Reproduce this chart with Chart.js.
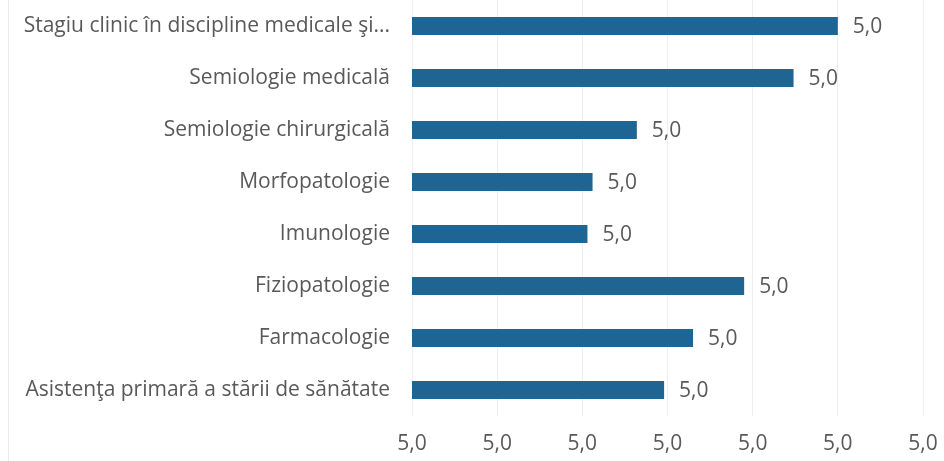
<!DOCTYPE html>
<html>
<head>
<meta charset="utf-8">
<script src="https://cdn.jsdelivr.net/npm/chart.js@4"></script>
<style>
html,body{margin:0;padding:0;background:#fff;}
#wrap{position:relative;width:944px;height:461px;}
#edge{position:absolute;left:8px;top:0;width:1px;height:461px;background:#ececec;}
</style>
</head>
<body>
<div id="wrap"><div id="edge"></div><canvas id="c" width="944" height="461"></canvas></div>
<script>
const categories = [
  "Stagiu clinic în discipline medicale şi...",
  "Semiologie medicală",
  "Semiologie chirurgicală",
  "Morfopatologie",
  "Imunologie",
  "Fiziopatologie",
  "Farmacologie",
  "Asistenţa primară a stării de sănătate"
];
const values = [4.995, 4.9924, 4.9832, 4.9806, 4.9803, 4.9895, 4.9865, 4.9848];
const axisMin = 4.970;
const axisMax = 5.000;
const axisStep = 0.005;

const fmt = v => (Math.round(v * 10) / 10).toFixed(1).replace('.', ',');
const FONT = "'Open Sans', sans-serif";
const GREY = '#595959';

const labelPlugin = {
  id: 'barLabels',
  afterDatasetsDraw(chart) {
    const ctx = chart.ctx;
    const meta = chart.getDatasetMeta(0);
    ctx.save();
    ctx.font = "21px " + FONT;
    ctx.fillStyle = GREY;
    ctx.textAlign = 'left';
    ctx.textBaseline = 'middle';
    meta.data.forEach((el, i) => {
      ctx.fillText(fmt(values[i]), el.x + 15, el.y + 1);
    });
    ctx.restore();
  }
};

new Chart(document.getElementById('c'), {
  type: 'bar',
  data: {
    labels: categories,
    datasets: [{
      data: values,
      backgroundColor: '#1F6594',
      borderWidth: 0,
      barPercentage: 0.69,
      categoryPercentage: 0.5
    }]
  },
  options: {
    indexAxis: 'y',
    responsive: false,
    animation: false,
    layout: { padding: { top: 0, right: 21, left: 0, bottom: 0 } },
    plugins: { legend: { display: false }, tooltip: { enabled: false } },
    scales: {
      x: {
        min: axisMin,
        max: axisMax,
        ticks: {
          stepSize: axisStep,
          callback: v => fmt(v),
          color: GREY,
          font: { family: FONT, size: 21 },
          padding: 15
        },
        grid: { color: '#eeeeee', drawTicks: false },
        border: { display: false },
        afterFit: s => { s.height = 45; s.paddingLeft = 0; s.paddingRight = 0; }
      },
      y: {
        ticks: {
          color: GREY,
          font: { family: FONT, size: 21 },
          padding: 22
        },
        grid: { display: false, drawTicks: false },
        border: { display: false },
        afterFit: s => { s.width = 412; s.paddingTop = 0; s.paddingBottom = 0; }
      }
    }
  },
  plugins: [labelPlugin]
});
</script>
</body>
</html>
